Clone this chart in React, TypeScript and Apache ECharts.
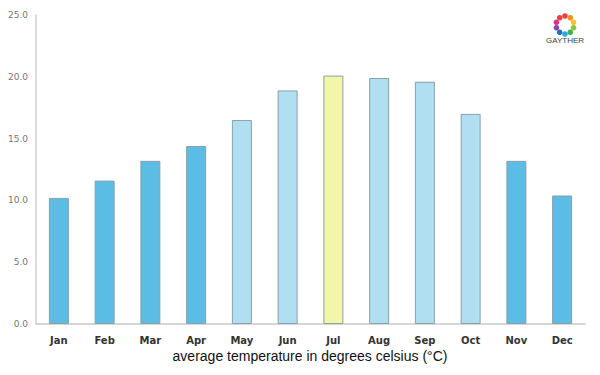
import React, { useEffect, useRef } from "react";
import * as echarts from "echarts";

const months = ["Jan", "Feb", "Mar", "Apr", "May", "Jun", "Jul", "Aug", "Sep", "Oct", "Nov", "Dec"];
const temps = [10.2, 11.6, 13.2, 14.4, 16.5, 18.9, 20.1, 19.9, 19.6, 17.0, 13.2, 10.4];
const barColors = ["#5bbde5", "#5bbde5", "#5bbde5", "#5bbde5", "#b1dff2", "#b1dff2", "#f3f5a9", "#b1dff2", "#b1dff2", "#b1dff2", "#5bbde5", "#5bbde5"];
const logoColors = ["#e8413c", "#f28c28", "#f7c325", "#8cc63f", "#39b54a", "#27aae1", "#2b6cb5", "#8e44ad", "#d6338a", "#e8413c"];

export default function App() {
  const ref = useRef<HTMLDivElement>(null);
  useEffect(() => {
    const chart = echarts.init(ref.current!, undefined, { renderer: "svg" });
    const cx = 565, cy = 25, r = 9;
    const logo: any[] = logoColors.map((c, i) => {
      const a = (i / logoColors.length) * Math.PI * 2 - Math.PI / 2;
      return {
        type: "circle",
        shape: { cx: cx + r * Math.cos(a), cy: cy + r * Math.sin(a), r: 2.8 },
        style: { fill: c },
      };
    });
    logo.push({
      type: "text",
      x: cx,
      y: 36,
      style: { text: "GAYTHER", fill: "#444", font: "8px 'Liberation Sans', sans-serif", align: "center", verticalAlign: "top" },
    });
    chart.setOption({
      animation: false,
      grid: { left: 36, right: 15, top: 15, bottom: 51 },
      xAxis: {
        type: "category",
        data: months,
        axisLine: { lineStyle: { color: "#c8c8c8", width: 1.5 } },
        axisTick: { show: false },
        axisLabel: { color: "#333", fontWeight: "bold", fontSize: 10, fontFamily: "'DejaVu Sans', sans-serif", margin: 11 },
      },
      yAxis: {
        type: "value",
        min: 0,
        max: 25,
        interval: 5,
        axisLine: { show: true, lineStyle: { color: "#d0d0d0", width: 1.5 } },
        axisTick: { show: false },
        splitLine: { show: false },
        axisLabel: { color: "#777", fontSize: 9, fontFamily: "'DejaVu Sans', sans-serif", formatter: (v: number) => v.toFixed(1), margin: 8 },
      },
      series: [
        {
          type: "bar",
          barWidth: 20,
          data: temps.map((v, i) => ({ value: v, itemStyle: { color: barColors[i] } })),
          itemStyle: { borderColor: "#8aa0aa", borderWidth: 1 },
        },
      ],
      graphic: [
        ...logo,
        {
          type: "text",
          x: 310,
          y: 349,
          style: { text: "average temperature in degrees celsius (°C)", fill: "#111", font: "14px 'Liberation Sans', Arial, sans-serif", align: "center", verticalAlign: "top" },
        },
      ],
    });
    return () => chart.dispose();
  }, []);
  return <div ref={ref} style={{ width: 600, height: 375, position: "absolute", left: 0, top: 0 }} />;
}
